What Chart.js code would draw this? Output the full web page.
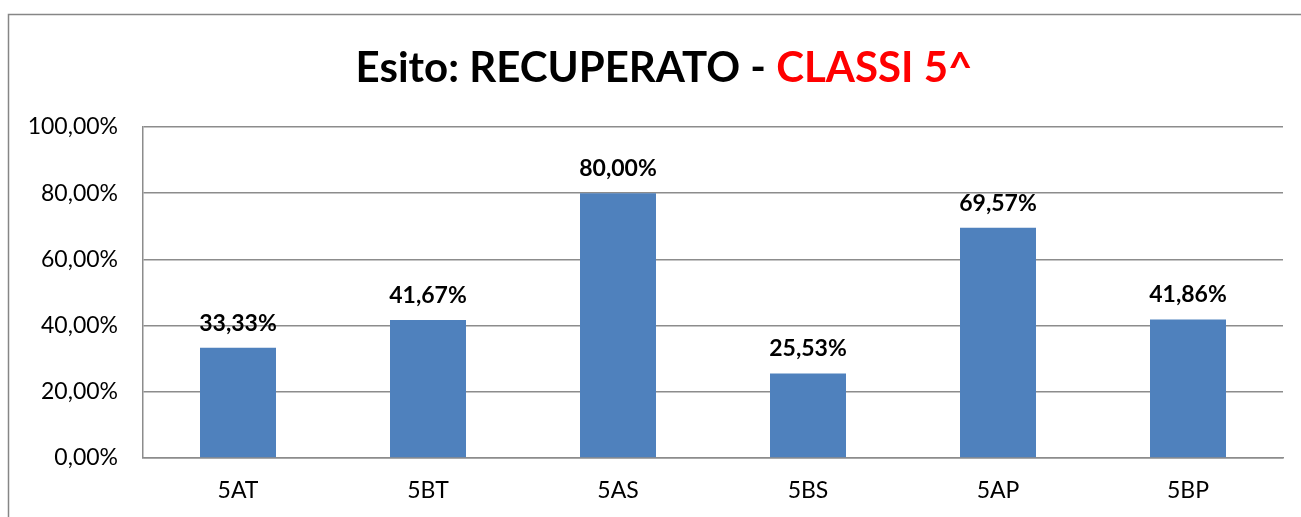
<!DOCTYPE html>
<html>
<head>
<meta charset="utf-8">
<script src="https://cdn.jsdelivr.net/npm/chart.js@4/dist/chart.umd.min.js"></script>
<style>
  html, body { margin: 0; padding: 0; background: #fff; }
  #wrap { width: 1301px; height: 517px; }
</style>
</head>
<body>
<div id="wrap"><canvas id="my-chart" width="1301" height="517"></canvas></div>
<script>
'use strict';

let classNames = ['5AT', '5BT', '5AS', '5BS', '5AP', '5BP'];
let recoveredPct = [33.33, 41.67, 80.00, 25.53, 69.57, 41.86];
let titleBlack = 'Esito: RECUPERATO - ';
let titleRed = 'CLASSI 5^';

let fontFam = 'Lato, "Liberation Sans", sans-serif';

function fmtPct(v) {
  return v.toFixed(2).replace('.', ',') + '%';
}

// outer frame + two colour title
let framePlugin = {
  id: 'frame',
  beforeDraw(chart) {
    let ctx = chart.ctx;
    ctx.save();
    ctx.strokeStyle = '#868686';
    ctx.lineWidth = 1.5;
    ctx.strokeRect(8.5, 14.5, 1400, 600);
    ctx.restore();
  },
  afterDraw(chart) {
    let ctx = chart.ctx;
    ctx.save();
    ctx.font = 'bold 42px ' + fontFam;
    ctx.textBaseline = 'middle';
    let w1 = ctx.measureText(titleBlack).width;
    let w2 = ctx.measureText(titleRed).width;
    let x = 664 - (w1 + w2) / 2;
    ctx.fillStyle = '#000';
    ctx.fillText(titleBlack, x, 68);
    ctx.fillStyle = '#ff0000';
    ctx.fillText(titleRed, x + w1, 68);
    ctx.restore();
  }
};

// value labels above bars
let labelPlugin = {
  id: 'barLabels',
  afterDatasetsDraw(chart) {
    let ctx = chart.ctx;
    let meta = chart.getDatasetMeta(0);
    ctx.save();
    ctx.font = 'bold 23px ' + fontFam;
    ctx.fillStyle = '#000';
    ctx.textAlign = 'center';
    ctx.textBaseline = 'bottom';
    meta.data.forEach(function (bar, i) {
      ctx.fillText(fmtPct(recoveredPct[i]), bar.x, bar.y - 13);
    });
    ctx.restore();
  }
};

let canvasElem = document.getElementById('my-chart');

let chartObj = {
  type: 'bar',
  data: {
    labels: classNames,
    datasets: [{
      data: recoveredPct,
      backgroundColor: '#4f81bd',
      borderWidth: 0,
      categoryPercentage: 1,
      barPercentage: 0.4
    }]
  },
  options: {
    responsive: false,
    animation: false,
    layout: { padding: { top: 127, right: 18, bottom: 0, left: 0 } },
    plugins: {
      legend: { display: false },
      title: { display: false },
      tooltip: { enabled: false }
    },
    scales: {
      y: {
        min: 0,
        max: 100,
        afterFit(scale) { scale.width = 143; },
        ticks: {
          stepSize: 20,
          padding: 25,
          color: '#000',
          font: { family: fontFam, size: 23 },
          callback: function (v) { return fmtPct(v); }
        },
        grid: { color: '#8c8c8c', lineWidth: 1.5, drawTicks: false },
        border: { color: '#8c8c8c', width: 1.5 }
      },
      x: {
        afterFit(scale) { scale.height = 59; },
        ticks: {
          padding: 19,
          color: '#000',
          font: { family: fontFam, size: 23 }
        },
        grid: { display: false, drawTicks: false },
        border: { color: '#8c8c8c', width: 1.5 }
      }
    }
  },
  plugins: [framePlugin, labelPlugin]
};

new Chart(canvasElem, chartObj); //eslint-disable-line
</script>
</body>
</html>
